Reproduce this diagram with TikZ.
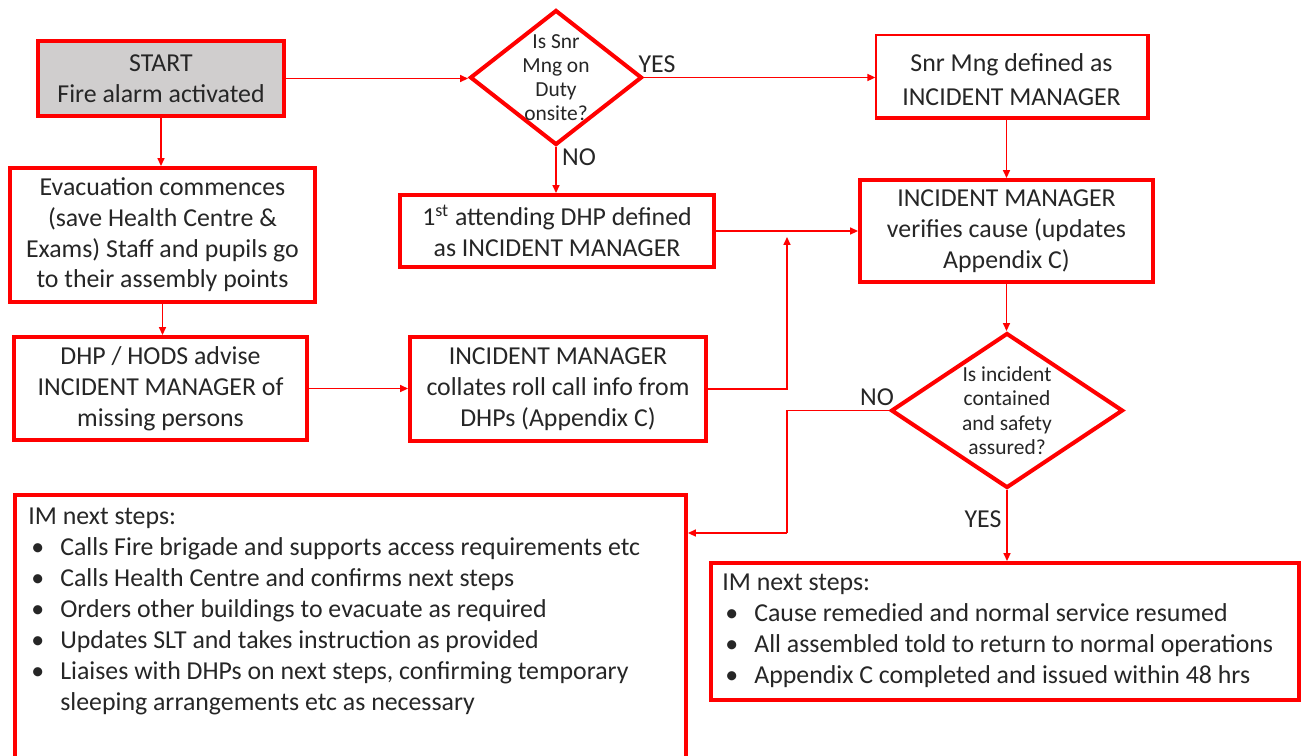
\documentclass[tikz,border=0pt]{standalone}
\usepackage{fontspec}
\setmainfont{Carlito}
\usetikzlibrary{shapes.geometric,arrows.meta}

\definecolor{firered}{HTML}{FF0000}
\definecolor{startgrey}{HTML}{D0CECE}
\definecolor{inktext}{HTML}{262626}

% bullet and hanging indent for the next-steps lists
\newcommand{\imstep}{\makebox[0.64cm][l]{\hspace{0.06cm}\textbullet}}
\newcommand{\imhang}{\hspace*{0.64cm}}

\begin{document}
\begin{tikzpicture}[x=0.02cm, y=-0.02cm,
  every node/.style={text=inktext, font=\fontsize{14.7}{17.5}\selectfont},
  box/.style={draw=firered, line width=2.3pt, fill=white, align=center, inner sep=2pt},
  decision/.style={diamond, draw=firered, line width=2.3pt, fill=white, inner sep=0pt},
  asktext/.style={align=center, font=\fontsize{12.2}{13.8}\selectfont},
  steptext/.style={anchor=north west, align=left, inner sep=0pt, font=\fontsize{14.7}{17.6}\selectfont},
  conn/.style={draw=firered, line width=0.8pt, -{Triangle[length=4.5pt,width=4pt]}},
  link/.style={draw=firered, line width=0.8pt}]

\useasboundingbox (0,0) rectangle (1307,755);
\clip (0,0) rectangle (1307,755);

% Top row
\node[box, fill=startgrey, minimum width=4.92cm, minimum height=1.5cm] (start) at (161,78.5)
  {START\\Fire alarm activated};
\node[decision, minimum width=3.44cm, minimum height=2.7cm] (duty) at (556,77.5) {};
\node[asktext] (dutytext) at (duty.center) {Is Snr\\Mng on\\Duty\\onsite?};
\node[box, line width=0.8pt, minimum width=5.42cm, minimum height=1.64cm] (snr) at (1011.5,76)
  {\\[-3pt]Snr Mng defined as\\[2pt]INCIDENT MANAGER};
\draw[firered, line width=2.3pt] (snr.north east) -- (snr.south east) -- (snr.south west);

% Second row
\node[box, minimum width=6.1cm, minimum height=2.68cm] (evac) at (162.5,235)
  {Evacuation commences\\(save Health Centre \&\\Exams) Staff and pupils go\\to their assembly points};
\node[box, minimum width=6.28cm, minimum height=1.44cm] (firstdhp) at (557,231)
  {1\textsuperscript{st} attending DHP defined\\as INCIDENT MANAGER};
\node[box, minimum width=5.86cm, minimum height=2.04cm] (verify) at (1006.5,231)
  {INCIDENT MANAGER\\verifies cause (updates\\Appendix C)};

% Third row
\node[box, minimum width=5.86cm, minimum height=2.06cm] (advise) at (160.5,388.5)
  {DHP / HODS advise\\INCIDENT MANAGER of\\missing persons};
\node[box, minimum width=5.92cm, minimum height=2.08cm] (collate) at (558,389)
  {INCIDENT MANAGER\\collates roll call info from\\DHPs (Appendix C)};
\node[decision, minimum width=4.64cm, minimum height=3.1cm] (safe) at (1007,410.5) {};
\node[asktext] (safetext) at (safe.center) {Is incident\\contained\\and safety\\assured?};

% Next steps boxes
\node[box, minimum width=13.42cm, minimum height=5.3cm] (nostep) at (350.5,627.5) {};
\node[steptext] (nosteptext) at (28,508)
  {IM next steps:\\
   \imstep Calls Fire brigade and supports access requirements etc\\
   \imstep Calls Health Centre and confirms next steps\\
   \imstep Orders other buildings to evacuate as required\\
   \imstep Updates SLT and takes instruction as provided\\
   \imstep Liaises with DHPs on next steps, confirming temporary\\
   \imhang sleeping arrangements etc as necessary};
\node[box, minimum width=11.76cm, minimum height=2.74cm] (yesstep) at (1005,631.5) {};
\node[steptext] (yessteptext) at (722,574)
  {IM next steps:\\
   \imstep Cause remedied and normal service resumed\\
   \imstep All assembled told to return to normal operations\\
   \imstep Appendix C completed and issued within 48 hrs};

% Connectors
\draw[conn] (start.east) -- (start.east -| duty.west);
\draw[conn] (duty.east) -- (duty.east -| snr.west);
\draw[conn] (verify.north |- snr.south) -- (verify.north);
\draw[conn] (duty.south) -- (duty.south |- firstdhp.north);
\draw[conn] (firstdhp.east) -- (verify.west);
\coordinate (join) at (787,237);
\draw[conn] (collate.east) -| (join);
\draw[conn] (start.south) -- (start.south |- evac.north);
\draw[conn] (evac.south) -- (evac.south |- advise.north);
\draw[conn] (advise.east) -- (advise.east -| collate.west);
\draw[conn] (verify.south) -- (verify.south |- safe.north);
\coordinate (nobend) at (787,533);
\draw[link] (safe.west) -| (nobend);
\draw[conn] (nobend) -- (nobend -| nostep.east);
\draw[conn] (safe.south) -- (safe.south |- yesstep.north);

% Answers
\node (dutyyes) at (657,64) {YES};
\node (dutyno) at (579,157) {NO};
\node (safeno) at (877,397) {NO};
\node (safeyes) at (983,519) {YES};
\end{tikzpicture}
\end{document}
